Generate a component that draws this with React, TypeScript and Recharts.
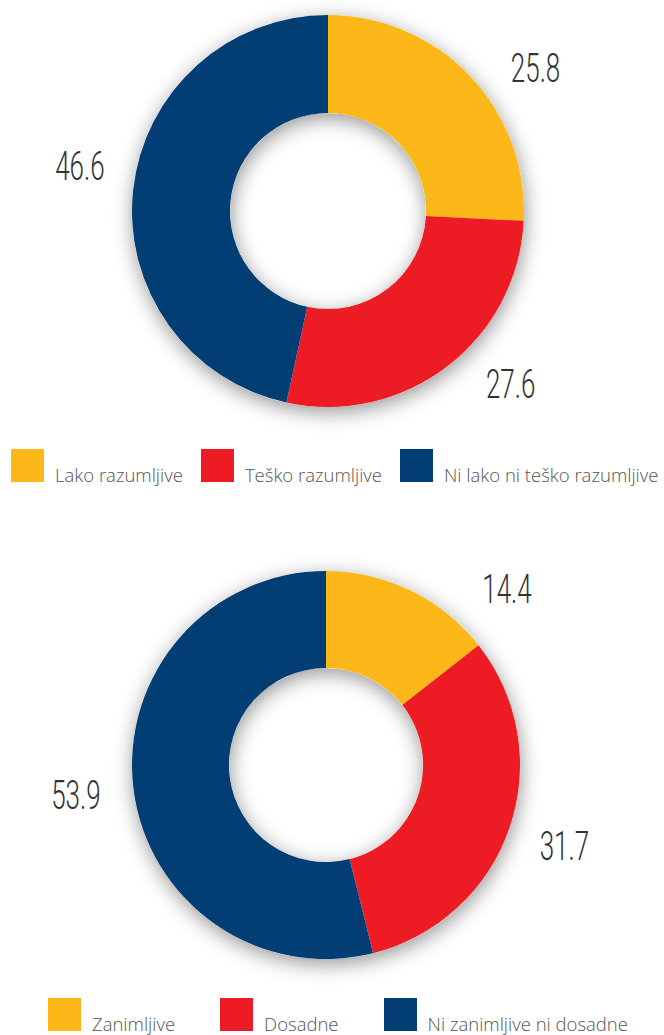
import React from 'react';
import { PieChart, Pie, Cell, Legend } from 'recharts';

const understandNames = ['Lako razumljive', 'Teško razumljive', 'Ni lako ni teško razumljive'];
const understandValues = [25.8, 27.6, 46.6];

const interestNames = ['Zanimljive', 'Dosadne', 'Ni zanimljive ni dosadne'];
const interestValues = [14.4, 31.7, 53.9];

const COLORS = ['#FBB818', '#ED1C24', '#023D74'];

// small per-slice angle nudges (deg) so the numbers sit where the original put them
const understandLabelTurn = [-9, 9, -4];
const interestLabelTurn = [-20, 0, 0];

const RADIAN = Math.PI / 180;
const ringBase = [{ name: 'ring', value: 1 }];

const makeLabel = (turn: number[], radius: number) => (props: any) => {
  const { cx, cy, midAngle, index, value } = props;
  const a = (midAngle + turn[index]) * RADIAN;
  const x = cx + radius * Math.cos(a);
  const y = cy - radius * Math.sin(a);
  return (
    <text
      transform={`translate(${x},${y}) scale(0.65,1)`}
      x={0}
      y={0}
      textAnchor="middle"
      dominantBaseline="central"
      fill="#333"
      fontFamily="Roboto, 'Liberation Sans', sans-serif"
      fontWeight={300}
      fontSize={40}
    >
      {value.toFixed(1)}
    </text>
  );
};

const LegendBox = ({ names, gap }: { names: string[]; gap: number }) => (
  <div style={{ display: 'flex', alignItems: 'baseline', gap }}>
    {names.map((name, i) => (
      <div key={name} style={{ display: 'flex', alignItems: 'baseline', whiteSpace: 'nowrap' }}>
        <div style={{ width: 33, height: 33, background: COLORS[i] }} />
        <span
          style={{
            marginLeft: 11,
            fontFamily: "'Open Sans', sans-serif",
            fontWeight: 300,
            fontSize: 18.5,
            color: '#555',
          }}
        >
          {name}
        </span>
      </div>
    ))}
  </div>
);

interface DonutProps {
  id: string;
  names: string[];
  values: number[];
  turn: number[];
  height: number;
  cx: number;
  cy: number;
  outer: number;
  inner: number;
  legendTop: number;
  legendLeft: number;
  legendGap: number;
}

const Donut: React.FC<DonutProps> = ({ id, names, values, turn, height, cx, cy, outer, inner, legendTop, legendLeft, legendGap }) => {
  const data = names.map((name, i) => ({ name, value: values[i] }));
  return (
    <PieChart width={664} height={height} margin={{ top: 0, right: 0, bottom: 0, left: 0 }}>
      <defs>
        <filter id={`shadow-${id}`} x="-30%" y="-30%" width="160%" height="160%">
          <feDropShadow dx="1" dy="5" stdDeviation="10" floodColor="#000" floodOpacity="0.42" />
        </filter>
      </defs>
      <Pie
        data={ringBase}
        dataKey="value"
        cx={cx}
        cy={cy}
        innerRadius={inner}
        outerRadius={outer}
        stroke="none"
        legendType="none"
        isAnimationActive={false}
      >
        <Cell fill="#fff" filter={`url(#shadow-${id})`} />
      </Pie>
      <Pie
        data={data}
        dataKey="value"
        nameKey="name"
        cx={cx}
        cy={cy}
        innerRadius={inner}
        outerRadius={outer}
        startAngle={90}
        endAngle={-270}
        stroke="none"
        labelLine={false}
        label={makeLabel(turn, 252)}
        isAnimationActive={false}
      >
        {data.map((d, i) => (
          <Cell key={d.name} fill={COLORS[i]} />
        ))}
      </Pie>
      <Legend
        content={() => <LegendBox names={names} gap={legendGap} />}
        wrapperStyle={{ position: 'absolute', top: legendTop, left: legendLeft, width: 664 - legendLeft }}
      />
    </PieChart>
  );
};

export default function App() {
  return (
    <div style={{ position: 'absolute', left: 0, top: 0, width: 664, height: 1035, background: '#fff' }}>
      <Donut
        id="a"
        names={understandNames}
        values={understandValues}
        turn={understandLabelTurn}
        height={530}
        cx={328}
        cy={211}
        outer={196}
        inner={98}
        legendTop={449}
        legendLeft={11}
        legendGap={18}
      />
      <Donut
        id="b"
        names={interestNames}
        values={interestValues}
        turn={interestLabelTurn}
        height={505}
        cx={326}
        cy={235}
        outer={194}
        inner={97}
        legendTop={468}
        legendLeft={48}
        legendGap={45}
      />
    </div>
  );
}
